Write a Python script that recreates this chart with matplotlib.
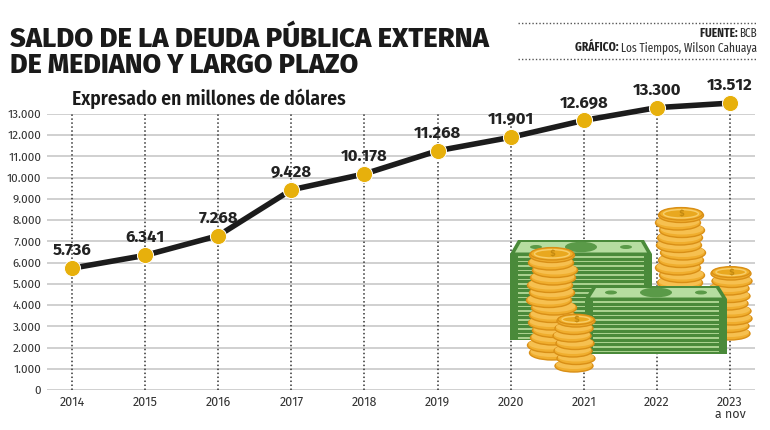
import matplotlib
matplotlib.use("Agg")
import matplotlib.pyplot as plt
from matplotlib.patches import Rectangle, Ellipse, Polygon
from matplotlib import font_manager as fm

years = ["2014", "2015", "2016", "2017", "2018", "2019", "2020", "2021", "2022", "2023\na nov"]
values = [5736, 6341, 7268, 9428, 10178, 11268, 11901, 12698, 13300, 13512]
value_labels = ["5.736", "6.341", "7.268", "9.428", "10.178", "11.268", "11.901", "12.698", "13.300", "13.512"]
yticks = list(range(0, 13001, 1000))
ytick_labels = ["0"] + [f"{v//1000}.000" for v in yticks[1:]]

names = {f.name for f in fm.fontManager.ttflist}
def pick(cands):
    for c in cands:
        if c in names:
            return c
    return "DejaVu Sans"
title_font = pick(["Fira Sans", "Roboto", "Open Sans"])
sub_font = pick(["Fira Sans Condensed", "Roboto Condensed", "Barlow Semi Condensed", "IBM Plex Sans Condensed"])
src_font = pick(["Fira Sans Extra Condensed", "Roboto Condensed", "IBM Plex Sans Condensed"])
tick_font = pick(["Fira Sans", "Open Sans"])
val_font = pick(["Fira Sans", "Open Sans"])

W, H = 770, 430
fig = plt.figure(figsize=(7.7, 4.3), dpi=100)
fig.patch.set_facecolor("white")
fig.canvas.draw()
r = fig.canvas.get_renderer()

def fx(px): return px / W
def fy(py): return 1 - py / H

def fit_text(xp, yp, txt, target_w, family, weight, color, ha="left", size0=20):
    t = fig.text(fx(xp), fy(yp), txt, fontsize=size0, fontweight=weight, family=family,
                 color=color, ha=ha, va="baseline")
    w = t.get_window_extent(r).width
    t.set_fontsize(size0 * target_w / w)
    return t

ax = fig.add_axes([fx(47), fy(390), fx(755) - fx(47), fy(114) - fy(390)])
x = list(range(len(years)))
ax.set_xlim(-0.342, 9.342)
ax.set_ylim(0, 13000)
for s in ax.spines.values():
    s.set_visible(False)
ax.set_yticks(yticks)
ax.set_yticklabels(ytick_labels, fontsize=8.5, color="#333333", family=tick_font)
ax.set_xticks(x)
ax.set_xticklabels([])
ax.tick_params(axis="both", length=0)
ax.tick_params(axis="y", pad=4)
for xi, lab in zip(x, years):
    for k, line in enumerate(lab.split("\n")):
        ax.text(xi, -(16 + 12 * k) / 276, line, transform=ax.get_xaxis_transform(), ha="center",
                va="baseline", fontsize=9, color="#333333", family=tick_font)
for v in yticks:
    ax.axhline(v, color="#c4c4c4", lw=1.1, zorder=1)
for xi in x:
    ax.vlines(xi, 0, 13000, colors="#333333", linestyles=(0, (1, 1.6)), lw=1.1, zorder=1)

ax.plot(x, values, color="#1c1c1c", lw=4, zorder=3, solid_capstyle="butt", clip_on=False)
ax.scatter(x, values, s=135, color="#E7B00C", edgecolor="white", linewidth=0.7, zorder=4, clip_on=False)
for xi, v, lab in zip(x, values, value_labels):
    ax.annotate(lab, (xi, v), xytext=(0, 7), textcoords="offset points", ha="center", va="bottom",
                fontsize=12, fontweight="bold", color="#222222", family=val_font, zorder=5,
                annotation_clip=False)

# Titles
fit_text(10, 47, "SALDO DE LA DEUDA PÚBLICA EXTERNA", 478, title_font, 800, "#1a1a1a")
fit_text(10, 73, "DE MEDIANO Y LARGO PLAZO", 348, title_font, 800, "#1a1a1a")
fit_text(72, 105, "Expresado en millones de dólares", 273, sub_font, 600, "#1a1a1a")

# Source block
ov = fig.add_axes([0, 0, 1, 1], zorder=10)
ov.set_xlim(0, W)
ov.set_ylim(H, 0)
ov.axis("off")
ov.patch.set_alpha(0)
ov.plot([518, 757], [23, 23], color="#555555", lw=1, ls=(0, (1, 1.5)))
ov.plot([518, 757], [59, 59], color="#555555", lw=1, ls=(0, (1, 1.5)))
def wpx(txt, **kw):
    tt = fig.text(0, 0, txt, **kw)
    w = tt.get_window_extent(r).width
    tt.remove()
    return w
w_all = wpx("GRÁFICO: ", fontsize=10, family=src_font, fontweight="bold") + wpx("Los Tiempos, Wilson Cahuaya", fontsize=10, family=src_font)
sz = 10 * 182 / w_all
ov.text(757, 37, "BCB", fontsize=sz, family=src_font, color="#333333", ha="right", va="baseline")
ov.text(757 - wpx("BCB", fontsize=sz, family=src_font), 37, "FUENTE: ", fontsize=sz, family=src_font,
        fontweight="bold", color="#222222", ha="right", va="baseline")
ov.text(757, 51, "Los Tiempos, Wilson Cahuaya", fontsize=sz, family=src_font, color="#333333", ha="right", va="baseline")
ov.text(757 - wpx("Los Tiempos, Wilson Cahuaya", fontsize=sz, family=src_font), 51, "GRÁFICO: ",
        fontsize=sz, family=src_font, fontweight="bold", color="#222222", ha="right", va="baseline")

# Decorative money illustration
def bills(x0, x1, ytop, yface, ybot, z):
    n = int((ybot - yface) / 4.5)
    ov.add_patch(Rectangle((x0, yface), x1 - x0, ybot - yface, facecolor="#4A8A3A", edgecolor="none", zorder=z))
    for i in range(n):
        yy = yface + 2 + i * 4.5
        ov.add_patch(Rectangle((x0 + 8, yy), x1 - x0 - 16, 1.8, facecolor="#A9D18E", edgecolor="none", zorder=z))
    ov.add_patch(Polygon([(x0, yface), (x1, yface), (x1 - 8, ytop), (x0 + 8, ytop)], closed=True,
                         facecolor="#4A8A3A", edgecolor="none", zorder=z))
    ov.add_patch(Polygon([(x0 + 5, yface - 1.5), (x1 - 5, yface - 1.5), (x1 - 11, ytop + 2), (x0 + 11, ytop + 2)], closed=True,
                         facecolor="#B6DDA0", edgecolor="none", zorder=z))
    cx = (x0 + x1) / 2
    ov.add_patch(Ellipse((cx, (ytop + yface) / 2), 32, (yface - ytop) * 0.75, facecolor="#5A9A48", zorder=z))
    ov.add_patch(Ellipse((cx - 45, (ytop + yface) / 2), 12, 4, facecolor="#5A9A48", zorder=z))
    ov.add_patch(Ellipse((cx + 45, (ytop + yface) / 2), 12, 4, facecolor="#5A9A48", zorder=z))

def coins(cx, w, ytop, ybot, z, shifts):
    h = w * 0.32
    step = 7.5
    n = int((ybot - ytop - h) / step) + 1
    for i in range(n):
        yy = ybot - h / 2 - i * step
        dx = shifts[i % len(shifts)]
        ov.add_patch(Ellipse((cx + dx, yy), w, h, facecolor="#F0AE2E", edgecolor="#D98F16", lw=1.0, zorder=z))
        ov.add_patch(Ellipse((cx + dx, yy - 1.5), w - 2, h - 3, facecolor="#F6C050", edgecolor="none", zorder=z))
    yy = ybot - h / 2 - (n - 1) * step
    dx = shifts[(n - 1) % len(shifts)]
    ov.add_patch(Ellipse((cx + dx, yy - 1.5), w - 2, h - 2, facecolor="#F2B12A", edgecolor="#D98F16", lw=1, zorder=z))
    ov.add_patch(Ellipse((cx + dx, yy - 1.5), w - 10, h - 6, facecolor="#E9A81F", edgecolor="#F7CD6A", lw=1, zorder=z))
    ov.text(cx + dx, yy - 1.5, "$", fontsize=6, color="#C58A10", ha="center", va="center", zorder=z, fontweight="bold")

bills(510, 652, 240, 254, 340, 11)
coins(552, 45, 245, 360, 12, [0, -2, 1, 3, -1, 0, 2, -3])
coins(680, 45, 206, 290, 11, [0, 2, -2, 1, 3, -1])
coins(730, 40, 262, 340, 11, [0, -1, 2, 1, -2])
bills(585, 727, 286, 299, 354, 13)
coins(574, 38, 313, 372, 14, [0, 2, -1, 1, -2])

fig.savefig("out.png", dpi=100, facecolor="white")
